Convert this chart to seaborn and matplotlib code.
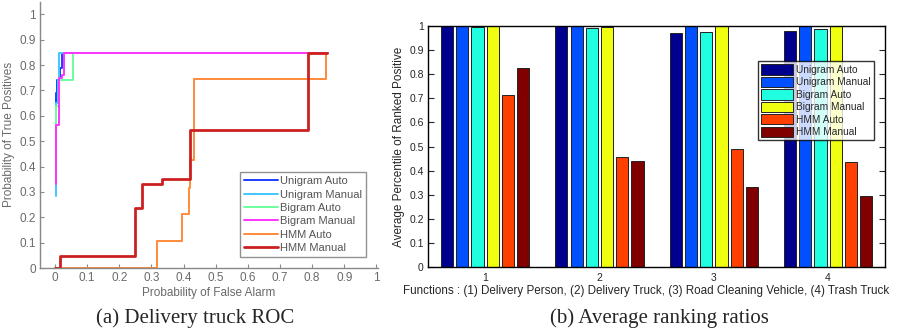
import matplotlib
matplotlib.use("Agg")
import matplotlib.pyplot as plt
import seaborn as sns
import pandas as pd
import numpy as np

# ---------------- data ----------------
methods = ["Unigram Auto", "Unigram Manual", "Bigram Auto", "Bigram Manual", "HMM Auto", "HMM Manual"]

# ROC curves (step vertices: false alarm, true positive)
ua_fpr = [0.002, 0.002, 0.005, 0.005, 0.016, 0.016, 0.022, 0.022, 0.848]
ua_tpr = [0.45, 0.69, 0.69, 0.74, 0.74, 0.79, 0.79, 0.848, 0.848]
um_fpr = [0.002, 0.002, 0.004, 0.004, 0.008, 0.008, 0.012, 0.012, 0.848]
um_tpr = [0.285, 0.51, 0.51, 0.65, 0.65, 0.74, 0.74, 0.848, 0.848]
ba_fpr = [0.003, 0.003, 0.012, 0.012, 0.057, 0.057, 0.848]
ba_tpr = [0.55, 0.64, 0.64, 0.742, 0.742, 0.848, 0.848]
bm_fpr = [0.003, 0.003, 0.012, 0.012, 0.022, 0.022, 0.027, 0.027, 0.848]
bm_tpr = [0.33, 0.565, 0.565, 0.75, 0.75, 0.76, 0.76, 0.848, 0.848]
ha_fpr = [0.0, 0.316, 0.316, 0.396, 0.396, 0.416, 0.416, 0.42, 0.42, 0.432, 0.432, 0.843, 0.843]
ha_tpr = [0.0, 0.0, 0.106, 0.106, 0.212, 0.212, 0.314, 0.314, 0.425, 0.425, 0.744, 0.744, 0.848]
hm_fpr = [0.0, 0.016, 0.016, 0.25, 0.25, 0.272, 0.272, 0.333, 0.333, 0.421, 0.421, 0.786, 0.786, 0.845]
hm_tpr = [0.0, 0.0, 0.047, 0.047, 0.235, 0.235, 0.333, 0.333, 0.353, 0.353, 0.543, 0.543, 0.848, 0.848]

roc_colors = ["#1f3dff", "#3fc8ff", "#6dff9e", "#ff33ff", "#ff8a3a", "#cc2020"]
roc_widths = [1.4, 1.4, 1.4, 1.4, 1.4, 2.0]

# average ranking ratios
functions = ["1", "2", "3", "4"]
unigram_auto = [1.0, 1.0, 0.970, 0.978]
unigram_manual = [1.0, 1.0, 1.0, 1.0]
bigram_auto = [0.995, 0.990, 0.974, 0.988]
bigram_manual = [1.0, 0.995, 1.0, 1.0]
hmm_auto = [0.714, 0.458, 0.488, 0.436]
hmm_manual = [0.824, 0.441, 0.331, 0.296]
bar_colors = ["#00008f", "#0050ff", "#20ffe0", "#f0ff10", "#ff4000", "#800000"]

# ---------------- figure ----------------
sns.set_style("white")
plt.rcParams["font.family"] = ["Liberation Sans", "DejaVu Sans"]
fig = plt.figure(figsize=(9, 3.33), dpi=100)

# ---- ROC ----
ax1 = fig.add_axes([0.0444, 0.195, 0.3756, 0.80])
roc_x = [ua_fpr, um_fpr, ba_fpr, bm_fpr, ha_fpr, hm_fpr]
roc_y = [ua_tpr, um_tpr, ba_tpr, bm_tpr, ha_tpr, hm_tpr]
for name, xs, ys, c, lw in zip(methods, roc_x, roc_y, roc_colors, roc_widths):
    sns.lineplot(x=xs, y=ys, sort=False, estimator=None, color=c, lw=lw, ax=ax1, label=name)
gray = "#6a6a6a"
ax1.set_xlim(-0.047, 1.005)
ax1.set_ylim(0, 1.05)
ticks = np.round(np.arange(0, 1.01, 0.1), 1)
ax1.set_xticks(ticks)
ax1.set_yticks(ticks)
ax1.set_xticklabels(["%g" % t for t in ticks])
ax1.set_yticklabels(["%g" % t for t in ticks])
for s in ["top", "right"]:
    ax1.spines[s].set_visible(False)
for s in ["left", "bottom"]:
    ax1.spines[s].set_color("#888888")
    ax1.spines[s].set_linewidth(1.0)
ax1.tick_params(direction="in", length=3, color="#888888", labelcolor=gray, labelsize=8.5,
                bottom=True, left=True, pad=3)
ax1.set_xlabel("Probability of False Alarm", fontsize=8.5, color=gray, labelpad=2)
ax1.set_ylabel("Probability of True Positives", fontsize=8.5, color=gray, labelpad=3)
leg1 = ax1.legend(loc="lower right", bbox_to_anchor=(0.965, 0.04), fontsize=8, frameon=True,
                  fancybox=False, edgecolor="#777777", handlelength=3.0, handletextpad=0.2,
                  labelspacing=0.3, borderpad=0.4, borderaxespad=0.0)
leg1.get_frame().set_linewidth(1.0)
for t in leg1.get_texts():
    t.set_color("#555555")

# ---- bars ----
ax2 = fig.add_axes([0.4756, 0.198, 0.508, 0.724])
df = pd.DataFrame({
    "function": functions * 6,
    "method": np.repeat(methods, 4),
    "value": unigram_auto + unigram_manual + bigram_auto + bigram_manual + hmm_auto + hmm_manual,
})
sns.barplot(data=df, x="function", y="value", hue="method", hue_order=methods, order=functions,
            palette=bar_colors, width=0.8, gap=0.2, edgecolor="#222222", linewidth=0.7,
            saturation=1, ax=ax2)
ax2.set_xlim(-0.5, 3.5)
ax2.set_ylim(0, 1)
ax2.set_yticks(ticks)
ax2.set_yticklabels(["%g" % t for t in ticks])
for s in ax2.spines.values():
    s.set_visible(True)
    s.set_color("black")
    s.set_linewidth(1.0)
ax2.tick_params(axis="y", direction="in", length=4, right=True, left=True, labelsize=7.5, pad=3)
ax2.tick_params(axis="x", direction="in", length=0, labelsize=7.5, pad=4)
ax2.set_xlabel("Functions : (1) Delivery Person, (2) Delivery Truck, (3) Road Cleaning Vehicle, (4) Trash Truck",
               fontsize=8.4, labelpad=2)
ax2.xaxis.set_label_coords(0.478, -0.075)
ax2.set_ylabel("Average Percentile of Ranked Positive", fontsize=8.5, labelpad=3)
leg2 = ax2.legend(loc="upper right", bbox_to_anchor=(0.975, 0.853), fontsize=7.3, frameon=True,
                  fancybox=False, edgecolor="black", handlelength=3.2, handleheight=1.15,
                  handletextpad=0.3, labelspacing=0.2, borderpad=0.3, borderaxespad=0.0)
leg2.get_frame().set_linewidth(1.0)

# ---- captions ----
fig.text(0.217, 0.045, "(a) Delivery truck ROC", ha="center", va="center",
         fontsize=15, family="Liberation Serif")
fig.text(0.733, 0.045, "(b) Average ranking ratios", ha="center", va="center",
         fontsize=15, family="Liberation Serif")

fig.savefig("out.png", dpi=100, facecolor="white")
